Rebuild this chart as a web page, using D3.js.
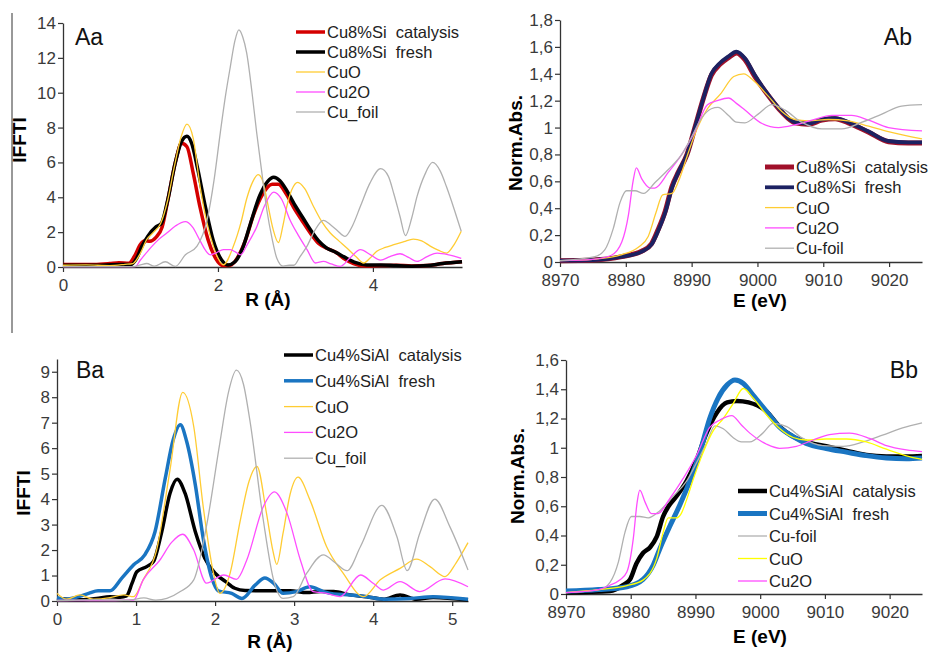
<!DOCTYPE html>
<html>
<head>
<meta charset="utf-8">
<script src="https://cdn.jsdelivr.net/npm/d3@7"></script>
<style>
  body { margin: 0; background: #fff; }
  svg { font-family: "Liberation Sans", Arial, sans-serif; }
</style>
</head>
<body>
<div id="chart"></div>
<script>
const W = 929, H = 652;

// ---- Aa : IFFT magnitude, Cu8%Si ----
const aaCat = [[0,0.15],[0.4,0.15],[0.6,0.2],[0.72,0.25],[0.85,0.22],[0.92,0.6],[1.0,1.3],[1.06,1.5],[1.12,1.48],[1.2,1.7],[1.28,2.3],[1.36,4.0],[1.45,6.0],[1.53,7.1],[1.6,6.9],[1.68,5.4],[1.77,3.4],[1.87,1.6],[1.97,0.5],[2.07,0.08],[2.16,0.1],[2.26,0.6],[2.36,1.6],[2.46,3.0],[2.58,4.2],[2.7,4.75],[2.78,4.75],[2.88,4.2],[2.98,3.4],[3.08,2.7],[3.2,1.9],[3.3,1.35],[3.42,1.05],[3.52,0.85],[3.62,0.5],[3.75,0.2],[3.9,0.06],[4.1,0.08],[4.3,0.1],[4.5,0.06],[4.7,0.08],[4.9,0.2],[5.15,0.3]];
const aaFresh = [[0,0.1],[0.5,0.1],[0.75,0.15],[0.88,0.15],[0.95,0.5],[1.02,1.2],[1.1,1.8],[1.2,2.3],[1.27,2.5],[1.35,3.8],[1.45,6.0],[1.53,7.2],[1.6,7.5],[1.66,7.1],[1.74,5.6],[1.84,3.4],[1.94,1.5],[2.04,0.45],[2.13,0.12],[2.22,0.3],[2.32,1.1],[2.42,2.5],[2.54,4.1],[2.64,4.9],[2.72,5.15],[2.8,4.95],[2.9,4.3],[3.0,3.5],[3.1,2.8],[3.2,2.1],[3.3,1.5],[3.4,1.1],[3.52,0.85],[3.64,0.55],[3.78,0.25],[3.92,0.12],[4.1,0.12],[4.3,0.08],[4.5,0.05],[4.7,0.08],[4.9,0.2],[5.15,0.3]];
const aaCuO = [[0,0.1],[0.3,0.12],[0.6,0.08],[0.8,0.15],[0.9,0.2],[1.0,0.8],[1.08,1.57],[1.17,2.0],[1.26,2.5],[1.35,3.8],[1.43,5.6],[1.52,7.4],[1.6,8.2],[1.68,7.4],[1.77,4.6],[1.86,2.5],[1.94,1.2],[2.07,0.13],[2.2,1.2],[2.3,2.6],[2.37,3.9],[2.45,4.9],[2.52,5.3],[2.58,4.9],[2.63,3.9],[2.71,2.2],[2.78,1.4],[2.84,2.4],[2.89,3.5],[2.95,4.4],[3.03,4.86],[3.12,4.5],[3.23,3.5],[3.34,2.6],[3.45,1.95],[3.56,1.5],[3.66,1.1],[3.78,0.6],[3.88,0.23],[3.96,0.5],[4.05,0.9],[4.16,1.12],[4.27,1.28],[4.4,1.45],[4.52,1.6],[4.63,1.5],[4.74,1.2],[4.85,0.95],[4.95,0.8],[5.05,1.3],[5.14,2.05]];
const aaCu2O = [[0,0.02],[0.5,0.02],[0.93,0.02],[1.0,0.4],[1.13,1.1],[1.24,1.6],[1.34,1.95],[1.45,2.35],[1.58,2.6],[1.67,2.3],[1.77,1.5],[1.84,0.95],[1.9,0.7],[1.97,0.8],[2.07,1.0],[2.16,1.0],[2.23,0.85],[2.29,0.7],[2.38,1.3],[2.5,2.3],[2.6,3.5],[2.72,4.3],[2.82,3.9],[2.93,2.7],[3.04,1.8],[3.15,1.0],[3.26,0.23],[3.36,0.32],[3.46,0.18],[3.58,0.04],[3.7,0.5],[3.84,1.0],[3.97,0.7],[4.1,0.4],[4.22,0.6],[4.35,0.76],[4.46,0.55],[4.57,0.32],[4.7,0.6],[4.83,0.8],[4.98,0.7],[5.14,0.5]];
const aaFoil = [[0,0.02],[0.9,0.02],[1.0,0.12],[1.08,0.2],[1.18,0.05],[1.32,0.3],[1.45,0.03],[1.58,0.7],[1.73,1.2],[1.86,2.7],[1.95,5.0],[2.03,7.7],[2.1,9.9],[2.16,11.5],[2.22,13.0],[2.27,13.6],[2.32,13.2],[2.37,12.3],[2.44,10.0],[2.5,7.7],[2.57,5.3],[2.63,3.3],[2.7,1.6],[2.76,0.5],[2.84,0.05],[2.92,0.1],[2.98,0.1],[3.06,0.6],[3.15,1.2],[3.25,2.1],[3.36,2.68],[3.46,2.4],[3.54,2.1],[3.64,1.76],[3.74,2.4],[3.84,3.5],[3.96,4.8],[4.1,5.64],[4.2,5.2],[4.27,4.2],[4.35,2.9],[4.42,1.8],[4.5,2.8],[4.57,4.05],[4.67,5.3],[4.77,6.0],[4.87,5.5],[4.95,4.6],[5.05,3.3],[5.14,2.05]];

// ---- Ab : XANES, Cu8%Si ----
const abCat = [[8970,0.01],[8975,0.015],[8979.4,0.04],[8982.4,0.08],[8983.9,0.135],[8984.9,0.24],[8986,0.38],[8987,0.56],[8988,0.67],[8989.3,0.8],[8990.5,1.0],[8991.8,1.22],[8993,1.39],[8994.3,1.47],[8995.6,1.52],[8996.8,1.555],[8998.1,1.505],[8999.6,1.38],[9001.7,1.235],[9003.7,1.115],[9005.7,1.035],[9007.7,1.025],[9009.8,1.055],[9011.8,1.065],[9013.8,1.035],[9016.9,0.965],[9019.9,0.895],[9022.9,0.885],[9025,0.885]];
const abFresh = [[8970,0.01],[8975,0.015],[8979.4,0.04],[8982.4,0.077],[8983.9,0.13],[8984.9,0.23],[8986,0.37],[8987,0.55],[8988,0.67],[8989.3,0.8],[8990.5,1.0],[8991.8,1.22],[8993,1.4],[8994.3,1.48],[8995.6,1.53],[8996.8,1.565],[8998.1,1.515],[8999.6,1.39],[9001.7,1.24],[9003.7,1.12],[9005.7,1.04],[9007.7,1.03],[9009.8,1.06],[9011.8,1.07],[9013.8,1.04],[9016.9,0.97],[9019.9,0.9],[9022.9,0.89],[9025,0.89]];
const abCuO = [[8970,0.01],[8975,0.02],[8979.4,0.055],[8981.9,0.11],[8983.4,0.19],[8984.6,0.37],[8985.6,0.5],[8987,0.51],[8988,0.6],[8989.4,0.8],[8990.9,1.0],[8992.4,1.14],[8994.4,1.25],[8996.4,1.38],[8997.9,1.4],[8999.6,1.34],[9001.7,1.23],[9003.7,1.12],[9005.7,1.06],[9007.7,1.05],[9010.8,1.06],[9013.8,1.05],[9016.9,1.01],[9019.9,0.97],[9025,0.915]];
const abCu2O = [[8970,0.01],[8975,0.02],[8977.8,0.05],[8979.4,0.15],[8980.4,0.35],[8981.1,0.6],[8981.6,0.7],[8982.4,0.62],[8983.7,0.55],[8984.4,0.55],[8986.5,0.67],[8988.5,0.8],[8990.5,0.97],[8992.4,1.17],[8993.9,1.2],[8995.6,1.22],[8996.8,1.18],[8998.1,1.13],[9000.7,1.03],[9003.2,1.0],[9005.7,1.02],[9008.3,1.055],[9011.3,1.09],[9014.3,1.09],[9016.9,1.055],[9019.9,1.0],[9025,0.975]];
const abFoil = [[8970,0.01],[8975.3,0.04],[8976.8,0.09],[8978.1,0.25],[8979.1,0.44],[8980.1,0.53],[8981.4,0.53],[8982.7,0.51],[8984.4,0.59],[8986.5,0.69],[8988.5,0.8],[8990,0.93],[8991.5,1.07],[8993,1.14],[8994,1.15],[8995.6,1.09],[8996.8,1.04],[8998.1,1.035],[9000.1,1.1],[9002.2,1.17],[9004.2,1.13],[9006.7,1.04],[9009.8,0.99],[9012.8,0.99],[9015.9,1.04],[9018.9,1.1],[9021.9,1.16],[9025,1.17]];

// ---- Ba : IFFT magnitude, Cu4%SiAl ----
const baCat = [[0,0.1],[0.3,0.05],[0.5,0.1],[0.67,0.17],[0.8,0.15],[0.88,0.2],[0.95,0.7],[1.01,1.15],[1.135,1.35],[1.22,1.55],[1.325,2.72],[1.43,4.23],[1.52,4.78],[1.62,4.23],[1.75,2.72],[1.87,1.68],[2.0,1.09],[2.13,0.77],[2.25,0.5],[2.38,0.41],[2.65,0.4],[2.95,0.4],[3.16,0.33],[3.33,0.37],[3.5,0.37],[3.71,0.24],[3.92,0.17],[4.13,0.07],[4.34,0.24],[4.55,0.07],[4.76,0.14],[5.2,0.04]];
const baFresh = [[0,0.13],[0.12,0.07],[0.25,0.15],[0.4,0.3],[0.52,0.4],[0.67,0.4],[0.82,0.9],[0.97,1.42],[1.11,1.81],[1.24,2.72],[1.37,4.82],[1.47,6.33],[1.56,6.92],[1.64,6.27],[1.75,4.56],[1.85,2.46],[1.96,0.89],[2.04,0.4],[2.21,0.3],[2.34,0.1],[2.51,0.63],[2.63,0.9],[2.74,0.7],[2.86,0.3],[3.03,0.37],[3.2,0.56],[3.37,0.37],[3.5,0.28],[3.71,0.24],[3.92,0.17],[4.13,0.07],[4.47,0.1],[4.76,0.17],[5.2,0.07]];
const baCuO = [[0,0.3],[0.12,0.07],[0.29,0.24],[0.46,0.07],[0.67,0.13],[0.84,0.24],[0.97,0.17],[1.09,0.83],[1.26,2.0],[1.43,5.15],[1.59,8.19],[1.73,6.85],[1.85,3.7],[1.98,1.09],[2.06,0.3],[2.19,1.09],[2.32,3.18],[2.43,4.7],[2.53,5.28],[2.65,3.45],[2.73,2.0],[2.78,1.44],[2.86,2.66],[2.95,4.2],[3.05,4.86],[3.2,3.97],[3.41,2.14],[3.62,1.09],[3.88,0.17],[4.09,0.83],[4.34,1.28],[4.55,1.64],[4.72,1.35],[4.91,0.96],[5.05,1.5],[5.2,2.29]];
const baCu2O = [[0,0.02],[0.5,0.02],[0.97,0.04],[1.09,0.83],[1.3,1.6],[1.45,2.3],[1.59,2.62],[1.73,2.0],[1.89,0.7],[2.11,1.02],[2.27,0.85],[2.4,1.6],[2.61,3.7],[2.75,4.28],[2.91,3.45],[3.08,1.6],[3.24,0.37],[3.41,0.3],[3.58,0.17],[3.84,1.02],[4.0,0.7],[4.13,0.43],[4.34,0.76],[4.59,0.37],[4.91,0.87],[5.2,0.56]];
const baFoil = [[0,0.02],[0.5,0.05],[0.9,0.03],[1.1,0.12],[1.25,0.03],[1.39,0.1],[1.56,0.37],[1.73,0.83],[1.89,2.92],[2.06,6.2],[2.17,8.2],[2.27,9.06],[2.36,8.5],[2.44,7.1],[2.61,3.18],[2.74,0.83],[2.86,0.1],[2.99,0.17],[3.16,1.09],[3.37,1.81],[3.52,1.5],[3.67,1.19],[3.84,2.14],[4.11,3.75],[4.3,2.53],[4.43,1.19],[4.59,2.66],[4.78,4.0],[4.97,2.92],[5.2,1.22]];

// ---- Bb : XANES, Cu4%SiAl ----
const bbCat = [[8970,0.01],[8976.8,0.02],[8978.8,0.06],[8979.9,0.1],[8980.9,0.21],[8981.9,0.28],[8983,0.32],[8984,0.39],[8985,0.53],[8986,0.61],[8987.1,0.67],[8988.6,0.77],[8990.2,0.92],[8991.7,1.1],[8993.3,1.24],[8994.9,1.31],[8996.4,1.32],[8998.2,1.31],[9001,1.247],[9003,1.144],[9005.1,1.076],[9007.1,1.04],[9010.2,1.01],[9013.3,0.98],[9016.4,0.95],[9019.5,0.94],[9022.6,0.94],[9025,0.944]];
const bbFresh = [[8970,0.02],[8975,0.03],[8979.4,0.05],[8981.9,0.1],[8983.5,0.2],[8984.5,0.31],[8986,0.46],[8987.6,0.61],[8989.1,0.77],[8990.7,0.97],[8992.2,1.2],[8993.5,1.34],[8994.9,1.43],[8996.1,1.463],[8997.4,1.44],[8998.9,1.36],[9001,1.247],[9003,1.14],[9005.1,1.076],[9007.1,1.03],[9010.2,0.995],[9013.3,0.97],[9016.4,0.946],[9019.5,0.93],[9022.6,0.925],[9025,0.93]];
const bbFoil = [[8970,0.01],[8975.2,0.03],[8976.8,0.08],[8978.1,0.22],[8979.1,0.42],[8980.1,0.53],[8981.4,0.53],[8982.7,0.52],[8984.5,0.57],[8986.6,0.67],[8988.6,0.77],[8990.2,0.9],[8991.7,1.03],[8993,1.15],[8994.3,1.13],[8995.8,1.07],[8997.1,1.04],[8998.4,1.04],[9000.4,1.1],[9002,1.166],[9004.1,1.144],[9006.6,1.064],[9009.7,1.014],[9012.8,1.01],[9015.9,1.04],[9018.9,1.086],[9022,1.136],[9025,1.17]];
const bbCuO = [[8970,0.01],[8975,0.03],[8979.4,0.057],[8981.9,0.095],[8984,0.24],[8985,0.42],[8985.8,0.52],[8987,0.52],[8987.8,0.55],[8988.6,0.64],[8989.7,0.79],[8991.2,0.97],[8992.8,1.12],[8994.3,1.2],[8995.8,1.3],[8997.4,1.405],[8998.9,1.34],[9001,1.224],[9003,1.132],[9005.1,1.07],[9007.1,1.053],[9010.2,1.06],[9013.3,1.06],[9016.4,1.04],[9019.5,0.99],[9022.6,0.945],[9025,0.92]];
const bbCu2O = [[8970,0.01],[8975,0.03],[8976.8,0.06],[8978.3,0.095],[8979.4,0.15],[8980.4,0.38],[8981,0.63],[8981.4,0.71],[8982.2,0.63],[8983.2,0.55],[8984.2,0.55],[8986,0.65],[8988.1,0.79],[8990.2,0.95],[8992.2,1.14],[8993.8,1.19],[8995.6,1.22],[8997.1,1.156],[8998.4,1.1],[9001,1.024],[9003,0.996],[9005.6,1.01],[9008.2,1.053],[9010.7,1.09],[9013.8,1.1],[9016.9,1.064],[9019.5,1.014],[9022.6,0.985],[9025,0.974]];

// ticks
const aaXTicks = [0, 2, 4];
const aaYTicks = [0, 2, 4, 6, 8, 10, 12, 14];
const baXTicks = [0, 1, 2, 3, 4, 5];
const baYTicks = [0, 1, 2, 3, 4, 5, 6, 7, 8, 9];
const eTicks = [8970, 8980, 8990, 9000, 9010, 9020];
const abYTicks = [0, 0.2, 0.4, 0.6, 0.8, 1, 1.2, 1.4, 1.6, 1.8];
const bbYTicks = [0, 0.2, 0.4, 0.6, 0.8, 1, 1.2, 1.4, 1.6];

const svg = d3.select("#chart").append("svg")
  .attr("width", W)
  .attr("height", H);

// divider line at the left of the top panel
svg.append("line")
  .attr("x1", 12).attr("x2", 12)
  .attr("y1", 13).attr("y2", 333)
  .attr("stroke", "#333").attr("stroke-width", 1);

const commaFmt = d => String(+d.toFixed(1)).replace(".", ",");

function drawPanel(p) {
  const x = d3.scaleLinear().domain(p.xDomain).range([p.left, p.right]);
  const y = d3.scaleLinear().domain(p.yDomain).range([p.bottom, p.top]);

  const gx = svg.append("g")
    .attr("transform", "translate(0," + p.bottom + ")")
    .call(d3.axisBottom(x).tickValues(p.xTicks).tickSize(5).tickSizeOuter(0)
      .tickFormat(p.xFmt || (d => d)));
  const gy = svg.append("g")
    .attr("transform", "translate(" + p.left + ",0)")
    .call(d3.axisLeft(y).tickValues(p.yTicks).tickSize(5).tickSizeOuter(0)
      .tickFormat(p.yFmt || (d => d)));

  [gx, gy].forEach(g => {
    g.attr("font-family", null).attr("font-size", null);
    g.select(".domain").attr("stroke", "#333").attr("stroke-width", 1.3);
    g.selectAll(".tick line").attr("stroke", "#333").attr("stroke-width", 1.2);
    g.selectAll(".tick text").attr("fill", "#3a3a3a").style("font-size", "17px");
  });
  gx.selectAll(".tick text").attr("dy", "0.9em").attr("y", 9);
  gy.selectAll(".tick text").attr("x", -7);

  const line = d3.line()
    .x(d => x(d[0]))
    .y(d => y(d[1]))
    .curve(d3.curveMonotoneX);

  p.series.forEach(s => {
    svg.append("path")
      .datum(s.data)
      .attr("fill", "none")
      .attr("stroke", s.color)
      .attr("stroke-width", s.width)
      .attr("stroke-linejoin", "round")
      .attr("d", line);
  });

  // legend
  p.series.forEach((s, i) => {
    const ly = p.legend.y + i * p.legend.dy;
    svg.append("line")
      .attr("x1", p.legend.x).attr("x2", p.legend.x + 29)
      .attr("y1", ly).attr("y2", ly)
      .attr("stroke", s.color)
      .attr("stroke-width", s.width);
    svg.append("text")
      .attr("x", p.legend.x + 31)
      .attr("y", ly + 6)
      .attr("fill", "#222")
      .style("font-size", "16.5px")
      .style("white-space", "pre")
      .text(s.name);
  });

  // panel tag
  svg.append("text")
    .attr("x", p.tag.x).attr("y", p.tag.y)
    .attr("text-anchor", p.tag.anchor)
    .attr("fill", "#111")
    .style("font-size", "23px")
    .text(p.tag.text);

  // axis titles
  svg.append("text")
    .attr("x", p.xTitle.x).attr("y", p.xTitle.y)
    .attr("text-anchor", "middle")
    .style("font-size", "19px").style("font-weight", "bold")
    .text(p.xTitle.text);
  svg.append("text")
    .attr("transform", "translate(" + p.yTitle.x + "," + p.yTitle.y + ") rotate(-90)")
    .attr("text-anchor", "middle")
    .style("font-size", "19px").style("font-weight", "bold")
    .text(p.yTitle.text);
}

const red = "#d40000", black = "#000", gold = "#ffcc33", pink = "#ff4dff", grey = "#b0b0b0";

drawPanel({
  left: 63, right: 462, top: 23, bottom: 267,
  xDomain: [0, 5.15], yDomain: [0, 14],
  xTicks: aaXTicks, yTicks: aaYTicks,
  series: [
    { name: "Cu8%Si  catalysis", data: aaCat, color: red, width: 3.5 },
    { name: "Cu8%Si  fresh", data: aaFresh, color: black, width: 3.5 },
    { name: "CuO", data: aaCuO, color: gold, width: 1.3 },
    { name: "Cu2O", data: aaCu2O, color: pink, width: 1.3 },
    { name: "Cu_foil", data: aaFoil, color: grey, width: 1.3 }
  ],
  legend: { x: 296, y: 32, dy: 20 },
  tag: { text: "Aa", x: 75, y: 45, anchor: "start" },
  xTitle: { text: "R (Å)", x: 268, y: 306 },
  yTitle: { text: "IFFTI", x: 26, y: 140 }
});

drawPanel({
  left: 560, right: 922, top: 20, bottom: 262,
  xDomain: [8970, 9025], yDomain: [0, 1.8],
  xTicks: eTicks, yTicks: abYTicks, yFmt: commaFmt,
  series: [
    { name: "Cu8%Si  catalysis", data: abCat, color: "#a0102a", width: 5 },
    { name: "Cu8%Si  fresh", data: abFresh, color: "#1c2262", width: 3.8 },
    { name: "CuO", data: abCuO, color: gold, width: 1.3 },
    { name: "Cu2O", data: abCu2O, color: pink, width: 1.3 },
    { name: "Cu-foil", data: abFoil, color: grey, width: 1.3 }
  ],
  legend: { x: 765, y: 167, dy: 20.3 },
  tag: { text: "Ab", x: 912, y: 45, anchor: "end" },
  xTitle: { text: "E (eV)", x: 760, y: 307 },
  yTitle: { text: "Norm.Abs.", x: 522, y: 143 }
});

drawPanel({
  left: 57, right: 468, top: 359, bottom: 601,
  xDomain: [0, 5.2], yDomain: [0, 9.5],
  xTicks: baXTicks, yTicks: baYTicks,
  series: [
    { name: "Cu4%SiAl  catalysis", data: baCat, color: black, width: 3.5 },
    { name: "Cu4%SiAl  fresh", data: baFresh, color: "#1a75c2", width: 3.5 },
    { name: "CuO", data: baCuO, color: gold, width: 1.3 },
    { name: "Cu2O", data: baCu2O, color: pink, width: 1.3 },
    { name: "Cu_foil", data: baFoil, color: grey, width: 1.3 }
  ],
  legend: { x: 284, y: 355, dy: 25.8 },
  tag: { text: "Ba", x: 76, y: 378, anchor: "start" },
  xTitle: { text: "R (Å)", x: 270, y: 648 },
  yTitle: { text: "IFFTI", x: 30, y: 493 }
});

drawPanel({
  left: 566, right: 922, top: 360, bottom: 594,
  xDomain: [8970, 9025], yDomain: [0, 1.6],
  xTicks: eTicks, yTicks: bbYTicks, yFmt: commaFmt,
  series: [
    { name: "Cu4%SiAl  catalysis", data: bbCat, color: black, width: 4.5 },
    { name: "Cu4%SiAl  fresh", data: bbFresh, color: "#1a75c2", width: 5 },
    { name: "Cu-foil", data: bbFoil, color: grey, width: 1.3 },
    { name: "CuO", data: bbCuO, color: "#ffff00", width: 1.3 },
    { name: "Cu2O", data: bbCu2O, color: pink, width: 1.3 }
  ],
  legend: { x: 738, y: 491, dy: 22.5 },
  tag: { text: "Bb", x: 918, y: 378, anchor: "end" },
  xTitle: { text: "E (eV)", x: 760, y: 643 },
  yTitle: { text: "Norm.Abs.", x: 524, y: 476 }
});
</script>
</body>
</html>
